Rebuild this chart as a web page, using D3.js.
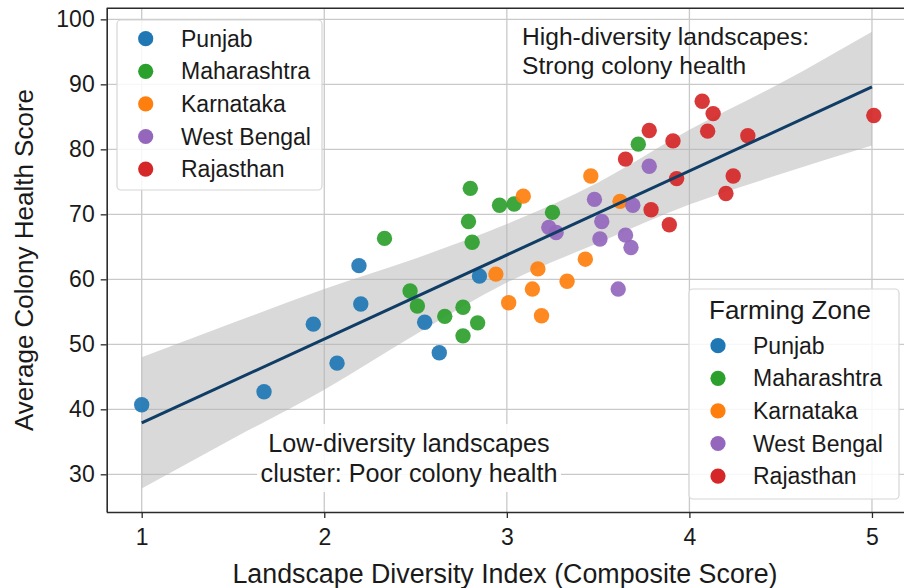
<!DOCTYPE html>
<html>
<head>
<meta charset="utf-8">
<script src="https://cdn.jsdelivr.net/npm/d3@7"></script>
<style>
  html, body { margin: 0; padding: 0; background: #ffffff; }
  svg { display: block; }
  text { font-family: "Liberation Sans", Arial, Helvetica, sans-serif; fill: #1a1a1a; }
</style>
</head>
<body>
<svg id="chart" width="904" height="588"></svg>
<script>
// ---------------- DATA ----------------
const zones = ["Punjab", "Maharashtra", "Karnataka", "West Bengal", "Rajasthan"];
const zoneColors = ["#1f77b4", "#2ca02c", "#ff7f0e", "#9467bd", "#d62728"];

const punjabX = [1.00, 1.67, 1.94, 2.07, 2.19, 2.20, 2.55, 2.63, 2.85];
const punjabY = [40.7, 42.7, 53.1, 47.1, 62.1, 56.2, 53.4, 48.7, 60.5];

const maharashtraX = [2.33, 2.47, 2.51, 2.66, 2.76, 2.76, 2.79, 2.80, 2.81, 2.84, 2.96, 3.04, 3.25, 3.72];
const maharashtraY = [66.3, 58.2, 55.9, 54.3, 55.7, 51.3, 68.9, 74.0, 65.7, 53.3, 71.4, 71.6, 70.3, 80.8];

const karnatakaX = [2.94, 3.01, 3.09, 3.14, 3.17, 3.19, 3.33, 3.43, 3.46, 3.62];
const karnatakaY = [60.8, 56.4, 72.8, 58.5, 61.6, 54.4, 59.7, 63.1, 75.9, 72.0];

const westBengalX = [3.23, 3.27, 3.48, 3.51, 3.52, 3.61, 3.65, 3.68, 3.69, 3.78];
const westBengalY = [68.0, 67.2, 72.3, 66.2, 68.9, 58.5, 66.8, 64.9, 71.4, 77.4];

const rajasthanX = [3.65, 3.78, 3.79, 3.89, 3.91, 3.93, 4.07, 4.10, 4.13, 4.20, 4.24, 4.32, 5.01];
const rajasthanY = [78.5, 82.9, 70.7, 68.4, 81.3, 75.5, 87.4, 82.8, 85.5, 73.2, 75.9, 82.1, 85.2];

// regression fit and confidence band
const fitX = [1, 5];
const fitY = [37.9, 89.6];
const bandX    = [1, 1.5, 2, 2.5, 3, 3.5, 4, 4.5, 5];
const bandLow  = [27.8, 35.5, 43.0, 51.5, 59.5, 65.6, 71.5, 76.2, 80.6];
const bandHigh = [48.0, 53.3, 58.5, 63.2, 68.5, 74.9, 83.0, 90.2, 98.1];

const xTicks = [1, 2, 3, 4, 5];
const yTicks = [30, 40, 50, 60, 70, 80, 90, 100];

const xLabel = "Landscape Diversity Index (Composite Score)";
const yLabel = "Average Colony Health Score";
const noteHigh = ["High-diversity landscapes:", "Strong colony health"];
const noteLow = ["Low-diversity landscapes", "cluster: Poor colony health"];
const legendTitle = "Farming Zone";

// ---------------- BUILD ----------------
const seriesX = [punjabX, maharashtraX, karnatakaX, westBengalX, rajasthanX];
const seriesY = [punjabY, maharashtraY, karnatakaY, westBengalY, rajasthanY];
const points = [];
zones.forEach((z, i) => seriesX[i].forEach((xv, j) => points.push({zone: z, color: zoneColors[i], x: xv, y: seriesY[i][j]})));

const svg = d3.select("#chart");
const W = 904, H = 588;
const pL = 106.7, pT = 8.3, pR = 910, pB = 512;

const x = d3.scaleLinear().domain([0.8083, 5.2083]).range([pL, pR]);
const y = d3.scaleLinear().domain([24.2, 101.7]).range([pB, pT]);

svg.append("rect").attr("width", W).attr("height", H).attr("fill", "#ffffff");

svg.append("defs").append("clipPath").attr("id", "plotclip")
  .append("rect").attr("x", pL).attr("y", pT).attr("width", pR - pL).attr("height", pB - pT);

const plot = svg.append("g").attr("clip-path", "url(#plotclip)");

// grid
plot.append("g").selectAll("line").data(xTicks).join("line")
  .attr("x1", d => x(d)).attr("x2", d => x(d)).attr("y1", pT).attr("y2", pB)
  .attr("stroke", "#c9c9c9").attr("stroke-width", 1.3);
plot.append("g").selectAll("line").data(yTicks).join("line")
  .attr("y1", d => y(d)).attr("y2", d => y(d)).attr("x1", pL).attr("x2", pR)
  .attr("stroke", "#c9c9c9").attr("stroke-width", 1.3);

// low annotation backdrop (under the band)
plot.append("rect").attr("x", 257).attr("y", 424).attr("width", 304).attr("height", 68)
  .attr("rx", 4).attr("fill", "#ffffff").attr("fill-opacity", 0.9);

// confidence band
const bandData = bandX.map((bx, i) => ({x: bx, lo: bandLow[i], hi: bandHigh[i]}));
plot.append("path").datum(bandData)
  .attr("d", d3.area().x(d => x(d.x)).y0(d => y(d.lo)).y1(d => y(d.hi)).curve(d3.curveMonotoneX))
  .attr("fill", "#b4b4b4").attr("fill-opacity", 0.5);

// points
plot.append("g").selectAll("circle").data(points).join("circle")
  .attr("cx", d => x(d.x)).attr("cy", d => y(d.y)).attr("r", 7.7)
  .attr("fill", d => d.color).attr("fill-opacity", 0.92);

// fit line
plot.append("path").datum(fitX.map((fx, i) => ({x: fx, y: fitY[i]})))
  .attr("d", d3.line().x(d => x(d.x)).y(d => y(d.y)))
  .attr("fill", "none").attr("stroke", "#0f3d66").attr("stroke-width", 3);

// axes
const xAxis = svg.append("g").attr("transform", `translate(0,${pB})`)
  .call(d3.axisBottom(x).tickValues(xTicks).tickFormat(d3.format("d")).tickSize(6).tickPadding(11));
const yAxis = svg.append("g").attr("transform", `translate(${pL},0)`)
  .call(d3.axisLeft(y).tickValues(yTicks).tickFormat(d3.format("d")).tickSize(6).tickPadding(6));
[xAxis, yAxis].forEach(a => {
  a.select(".domain").attr("stroke", "#2b2b2b").attr("stroke-width", 1.6);
  a.selectAll(".tick line").attr("stroke", "#2b2b2b").attr("stroke-width", 1.3);
  a.selectAll(".tick text").attr("font-size", 23).attr("fill", "#1a1a1a")
    .style("font-family", '"Liberation Sans", Arial, sans-serif');
});
xAxis.select(".domain").attr("d", `M${pL},0.5H${pR}`);
yAxis.select(".domain").attr("d", `M0.5,${pB}V${pT}`);
// top spine
svg.append("line").attr("x1", pL).attr("x2", pR).attr("y1", pT).attr("y2", pT)
  .attr("stroke", "#2b2b2b").attr("stroke-width", 1.6);

// axis labels
svg.append("text").attr("x", 505).attr("y", 583).attr("text-anchor", "middle")
  .attr("font-size", 26.8).text(xLabel);
svg.append("text").attr("transform", "translate(33,260) rotate(-90)").attr("text-anchor", "middle")
  .attr("font-size", 26).text(yLabel);

// annotations
svg.append("g").selectAll("text").data(noteHigh).join("text")
  .attr("x", 522).attr("y", (d, i) => 45 + i * 29).attr("font-size", 24.6).text(d => d);

svg.append("g").selectAll("text").data(noteLow).join("text")
  .attr("x", 409).attr("y", (d, i) => 452 + i * 30).attr("text-anchor", "middle")
  .attr("font-size", 25.2).text(d => d);

// legends
function legend(g, bx, by, bw, bh, title, markerX, textX, firstY, stepY) {
  g.append("rect").attr("x", bx).attr("y", by).attr("width", bw).attr("height", bh)
    .attr("rx", 4).attr("fill", "#ffffff").attr("fill-opacity", 0.85)
    .attr("stroke", "#d6d6d6").attr("stroke-width", 1.2);
  if (title) {
    g.append("text").attr("x", textX - 44).attr("y", by + 30).attr("font-size", 26).text(title);
  }
  const items = g.selectAll("g.item").data(zones).join("g").attr("class", "item")
    .attr("transform", (d, i) => `translate(0,${firstY + i * stepY})`);
  items.append("circle").attr("cx", markerX).attr("cy", 0).attr("r", 7.6)
    .attr("fill", (d, i) => zoneColors[i]);
  items.append("text").attr("x", textX).attr("y", 8).attr("font-size", 23).text(d => d);
}
legend(svg.append("g"), 117, 20, 205, 170, null, 145.7, 181, 38.7, 32.6);
legend(svg.append("g"), 689, 289, 210, 210, legendTitle, 718, 753, 345.7, 32.6);
</script>
</body>
</html>
